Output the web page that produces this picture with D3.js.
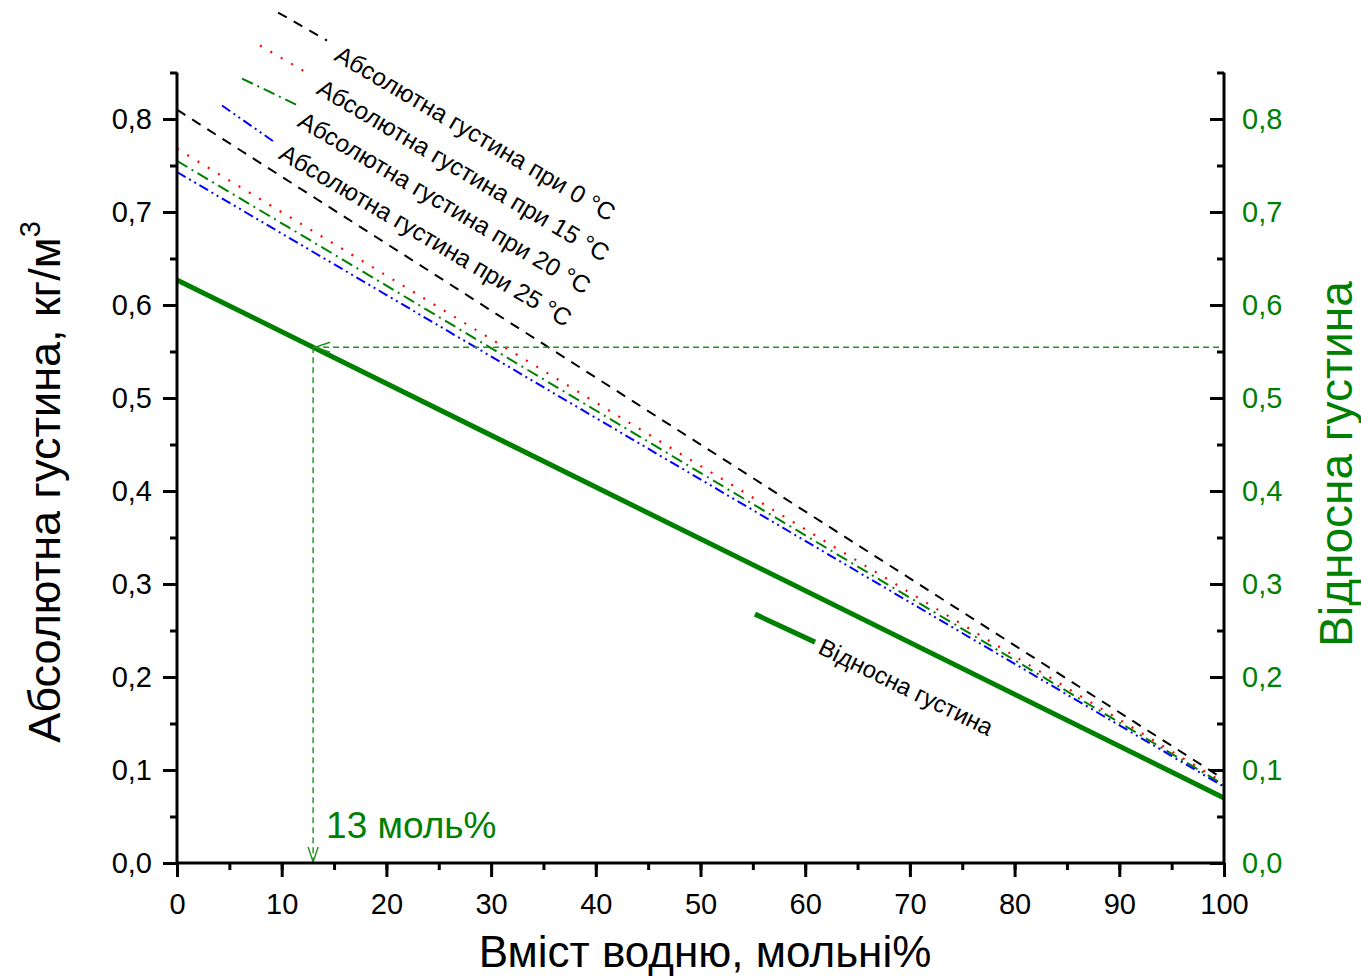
<!DOCTYPE html>
<html>
<head>
<meta charset="utf-8">
<script src="https://cdn.jsdelivr.net/npm/d3@7"></script>
<style>
    body { margin: 0; background: #fff; }
    text { font-family: "Liberation Sans", Arial, sans-serif; }
</style>
</head>
<body>
<script>
    // Hydrogen content, mol%
    var xValues = [0, 100];

    // Absolute density, kg/m3, at each temperature
    var density0 = [0.810, 0.090];
    var density15 = [0.768, 0.086];
    var density20 = [0.755, 0.084];
    var density25 = [0.743, 0.082];

    // Relative density
    var relDensity = [0.627, 0.070];

    var xTicks = [0, 10, 20, 30, 40, 50, 60, 70, 80, 90, 100];
    var yTicks = [0, 0.1, 0.2, 0.3, 0.4, 0.5, 0.6, 0.7, 0.8];

    // Marked point: 13 mol%
    var markX = 13;

    // Labels of the curves
    var seriesNames = ['Абсолютна густина при 0 °C', 'Абсолютна густина при 15 °C',
        'Абсолютна густина при 20 °C', 'Абсолютна густина при 25 °C'];
    var relName = 'Відносна густина';

(function () {
    // Frame
    var width = 1361,
        height = 977,
        left = 177,
        right = 1224,
        bottom = 863,
        plotTop = 72.5;

    var svg = d3.select('body')
        .append('svg')
        .attr('width', width)
        .attr('height', height);

    var x = d3.scaleLinear()
        .domain([0, 100])
        .range([left, right]);

    var y = d3.scaleLinear()
        .domain([0, 0.85])
        .range([bottom, plotTop]);

    var fmt = function (d) { return d3.format('.1f')(d).replace('.', ','); };

    // Series styles
    var series = [
        { values: density0, color: '#000000', dash: '10,8', width: 2 },
        { values: density15, color: '#ff0000', dash: '2,10', width: 2.2 },
        { values: density20, color: '#008000', dash: '12,5,2,5', width: 2 },
        { values: density25, color: '#0000ff', dash: '10,4,2,4,2,4', width: 2 }
    ];

    var line = d3.line()
        .x(function (d) { return x(d[0]); })
        .y(function (d) { return y(d[1]); });

    // Annotation placement in data units: leader start, leader end, text start
    var leaders = [
        [[9.65, 0.9145], [14.33, 0.8844], [14.9, 0.864]],
        [[7.93, 0.879], [12.51, 0.849], [13.2, 0.828]],
        [[6.21, 0.8435], [11.56, 0.8145], [11.4, 0.793]],
        [[4.30, 0.8145], [9.36, 0.7748], [9.6, 0.758]]
    ];
    var relLeader = [[55.2, 0.2676], [60.94, 0.2375], [61.1, 0.226]];

    // Absolute density curves
    series.forEach(function (s, i) {
        svg.append('path')
            .datum(xValues.map(function (v, j) { return [v, s.values[j]]; }))
            .attr('d', line)
            .attr('fill', 'none')
            .attr('stroke', s.color)
            .attr('stroke-width', s.width)
            .attr('stroke-dasharray', s.dash);

        // leader line
        svg.append('path')
            .datum(leaders[i].slice(0, 2))
            .attr('d', line)
            .attr('fill', 'none')
            .attr('stroke', s.color)
            .attr('stroke-width', s.width)
            .attr('stroke-dasharray', s.dash);

        var p = leaders[i][2];
        svg.append('text')
            .attr('transform', 'translate(' + x(p[0]) + ',' + y(p[1]) + ') rotate(30.5)')
            .attr('font-size', 24.5)
            .text(seriesNames[i]);
    });

    // Relative density curve
    svg.append('path')
        .datum(xValues.map(function (v, j) { return [v, relDensity[j]]; }))
        .attr('d', line)
        .attr('fill', 'none')
        .attr('stroke', '#008000')
        .attr('stroke-width', 5);

    svg.append('path')
        .datum(relLeader.slice(0, 2))
        .attr('d', line)
        .attr('fill', 'none')
        .attr('stroke', '#008000')
        .attr('stroke-width', 5);

    svg.append('text')
        .attr('transform', 'translate(' + x(relLeader[2][0]) + ',' + y(relLeader[2][1]) + ') rotate(26)')
        .attr('font-size', 24)
        .text(relName);

    // Guide lines from 13 mol%
    var markY = relDensity[0] + (relDensity[1] - relDensity[0]) * markX / 100;
    var guide = svg.append('g')
        .attr('fill', 'none')
        .attr('stroke', '#209020')
        .attr('stroke-width', 1.4);

    guide.append('line')
        .attr('x1', x(markX)).attr('y1', y(markY))
        .attr('x2', x(100)).attr('y2', y(markY))
        .attr('stroke-dasharray', '6,4');

    guide.append('line')
        .attr('x1', x(markX)).attr('y1', y(markY))
        .attr('x2', x(markX)).attr('y2', y(0))
        .attr('stroke-dasharray', '6,4');

    // arrow heads
    guide.append('path')
        .attr('d', 'M' + (x(markX) + 17) + ',' + (y(markY) - 5) + 'L' + (x(markX) + 2) + ',' + y(markY) +
            'L' + (x(markX) + 17) + ',' + (y(markY) + 5));
    guide.append('path')
        .attr('d', 'M' + (x(markX) - 5) + ',' + (y(0) - 16) + 'L' + x(markX) + ',' + (y(0) - 1) +
            'L' + (x(markX) + 5) + ',' + (y(0) - 16));

    svg.append('text')
        .attr('x', x(markX) + 13)
        .attr('y', y(0) - 25)
        .attr('font-size', 37)
        .attr('fill', '#008000')
        .text(markX + ' моль%');

    // Axes
    var minorX = d3.range(0, 101, 5);
    var minorY = d3.range(0, 0.851, 0.05);

    svg.append('g')
        .attr('transform', 'translate(0,' + bottom + ')')
        .call(d3.axisBottom(x).tickValues(minorX).tickSize(7).tickFormat(''));
    svg.append('g')
        .attr('transform', 'translate(0,' + bottom + ')')
        .call(d3.axisBottom(x).tickValues(xTicks).tickSize(14).tickPadding(16).tickFormat(d3.format('d')))
        .call(function (g) { g.selectAll('text').attr('font-size', 29).attr('fill', '#000'); });

    svg.append('g')
        .attr('transform', 'translate(' + left + ',0)')
        .call(d3.axisLeft(y).tickValues(minorY).tickSize(7).tickFormat(''));
    svg.append('g')
        .attr('transform', 'translate(' + left + ',0)')
        .call(d3.axisLeft(y).tickValues(yTicks).tickSize(14).tickPadding(11).tickFormat(fmt))
        .call(function (g) { g.selectAll('text').attr('font-size', 29).attr('fill', '#000'); });

    // Right axis: ticks point inward, labels outside
    svg.append('g')
        .attr('transform', 'translate(' + right + ',0)')
        .call(d3.axisLeft(y).tickValues(minorY).tickSize(7).tickFormat(''));
    var rAxis = svg.append('g')
        .attr('transform', 'translate(' + right + ',0)')
        .call(d3.axisLeft(y).tickValues(yTicks).tickSize(14).tickFormat(fmt));
    rAxis.selectAll('text')
        .attr('x', 18)
        .attr('text-anchor', 'start')
        .attr('font-size', 29)
        .attr('fill', '#008000');

    svg.selectAll('.tick line').attr('stroke-width', 3);

    // Plain axis lines without end caps
    svg.selectAll('.domain').remove();
    svg.append('line').attr('x1', left).attr('x2', right).attr('y1', bottom).attr('y2', bottom)
        .attr('stroke', '#000').attr('stroke-width', 3);
    svg.append('line').attr('x1', left).attr('x2', left).attr('y1', plotTop).attr('y2', bottom + 1.5)
        .attr('stroke', '#000').attr('stroke-width', 3);
    svg.append('line').attr('x1', right).attr('x2', right).attr('y1', plotTop).attr('y2', bottom + 1.5)
        .attr('stroke', '#000').attr('stroke-width', 3);

    // Axis titles
    svg.append('text')
        .attr('x', 705)
        .attr('y', 967)
        .attr('text-anchor', 'middle')
        .attr('font-size', 44)
        .text('Вміст водню, мольні%');

    var yTitle = svg.append('text')
        .attr('transform', 'translate(60,' + 482 + ') rotate(-90)')
        .attr('text-anchor', 'middle')
        .attr('font-size', 45);
    yTitle.append('tspan').text('Абсолютна густина, кг/м');
    yTitle.append('tspan').attr('font-size', 29).attr('dy', -20).text('3');

    svg.append('text')
        .attr('transform', 'translate(1352,' + 464 + ') rotate(-90)')
        .attr('text-anchor', 'middle')
        .attr('font-size', 46)
        .attr('fill', '#008000')
        .text('Відносна густина');
})();
</script>
</body>
</html>
